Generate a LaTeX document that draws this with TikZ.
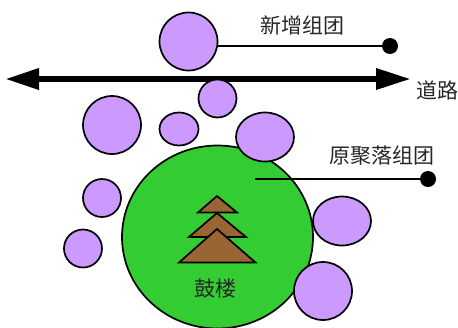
\documentclass[tikz,border=0pt]{standalone}
\usepackage{fontspec}
\newfontfamily\cjkfont{Noto Sans CJK SC}
\usetikzlibrary{shapes.geometric,arrows.meta}
\definecolor{lilac}{HTML}{CC99FF}
\definecolor{grass}{HTML}{33CC33}
\definecolor{roofbrown}{HTML}{996633}
\begin{document}
\begin{tikzpicture}[x=1pt,y=-1pt,
    group/.style={ellipse,draw,fill=lilac,line width=1.7pt,inner sep=0pt},
    roof/.style={draw,fill=roofbrown,line width=1.7pt},
    dot/.style={circle,fill=black,inner sep=0pt,minimum size=16pt},
    leader/.style={line width=1.7pt},
    label/.style={font=\cjkfont\fontsize{21}{21}\selectfont,text=black!85,inner sep=0pt}]
    \useasboundingbox (0,0) rectangle (458,327);

    % road
    \coordinate (roadw) at (5,79);
    \coordinate (roade) at (411,79);
    \draw[line width=6.5pt,{Triangle[length=34pt,width=20pt]}-{Triangle[length=35pt,width=20pt]}] (roadw) -- (roade);

    % old cluster
    \node[ellipse,draw,fill=grass,line width=1.7pt,minimum width=191pt,minimum height=183pt,inner sep=0pt] (old) at (217.5,237) {};

    % drum tower
    \draw[roof] (217,196) -- (237,212.5) -- (198,212.5) -- cycle;
    \draw[roof] (217,213) -- (246,237) -- (189,237) -- cycle;
    \draw[roof] (217,229) -- (255.5,262.5) -- (179,262.5) -- cycle;
    \node[label] (tower) at (215,289) {鼓楼};

    % small clusters
    \node[group,minimum width=58pt,minimum height=58pt] (new) at (188.5,41.5) {};
    \node[group,minimum width=58pt,minimum height=58pt] (a) at (112,125) {};
    \node[group,minimum width=39pt,minimum height=33pt] (b) at (179,129) {};
    \node[group,minimum width=38pt,minimum height=38pt] (c) at (217.5,98.5) {};
    \node[group,minimum width=58pt,minimum height=49pt] (d) at (265,137) {};
    \node[group,minimum width=38pt,minimum height=38pt] (e) at (102,198) {};
    \node[group,minimum width=38pt,minimum height=38pt] (f) at (83,248.5) {};
    \node[group,minimum width=58pt,minimum height=49pt] (g) at (342,221) {};
    \node[group,minimum width=58pt,minimum height=58pt] (h) at (323,291) {};

    % leaders
    \node[dot] (dot1) at (390,46) {};
    \node[dot] (dot2) at (428,179) {};
    \coordinate (oldin) at (255,179);
    \draw[leader] (new.east |- dot1) -- (dot1);
    \draw[leader] (oldin) -- (dot2);

    \node[label] (newlabel) at (302,25) {新增组团};
    \node[label] (oldlabel) at (381.5,156) {原聚落组团};
    \node[label] (roadlabel) at (437,90) {道路};
\end{tikzpicture}
\end{document}
